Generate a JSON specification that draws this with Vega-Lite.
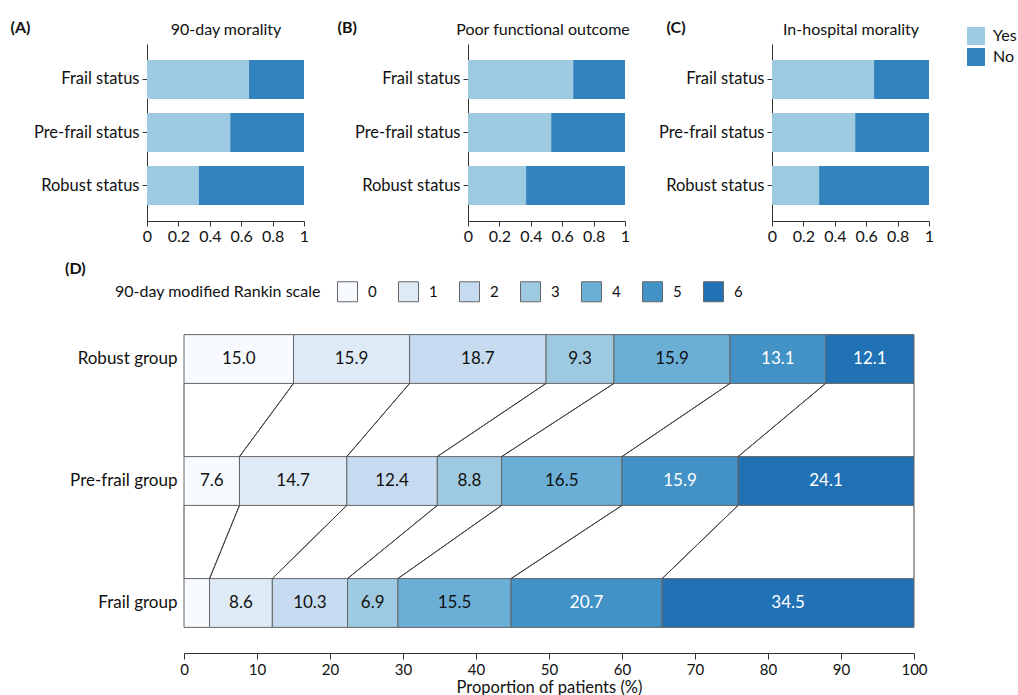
{
  "$schema": "https://vega.github.io/schema/vega-lite/v6.json",
  "padding": {"left": 10, "top": 19, "right": 0, "bottom": 0},
  "background": "white",
  "config": {
    "font": "Lato",
    "view": {"stroke": null},
    "axis": {"grid": false, "labelColor": "#111111", "titleColor": "#111111", "domainColor": "#333333", "tickColor": "#333333", "labelFont": "Lato", "titleFont": "Lato", "labelOverlap": false, "labelFlush": false},
    "legend": {"labelFont": "Lato", "titleFont": "Lato", "labelColor": "#111111", "titleColor": "#111111"},
    "title": {"font": "Lato", "color": "#111111"},
    "text": {"font": "Lato"}
  },
  "datasets": {
    "top": [
      {"panel": "A", "status": "Frail status", "outcome": "Yes", "value": 0.65},
      {"panel": "A", "status": "Frail status", "outcome": "No", "value": 0.35},
      {"panel": "A", "status": "Pre-frail status", "outcome": "Yes", "value": 0.53},
      {"panel": "A", "status": "Pre-frail status", "outcome": "No", "value": 0.47},
      {"panel": "A", "status": "Robust status", "outcome": "Yes", "value": 0.33},
      {"panel": "A", "status": "Robust status", "outcome": "No", "value": 0.67},
      {"panel": "B", "status": "Frail status", "outcome": "Yes", "value": 0.67},
      {"panel": "B", "status": "Frail status", "outcome": "No", "value": 0.33},
      {"panel": "B", "status": "Pre-frail status", "outcome": "Yes", "value": 0.53},
      {"panel": "B", "status": "Pre-frail status", "outcome": "No", "value": 0.47},
      {"panel": "B", "status": "Robust status", "outcome": "Yes", "value": 0.37},
      {"panel": "B", "status": "Robust status", "outcome": "No", "value": 0.63},
      {"panel": "C", "status": "Frail status", "outcome": "Yes", "value": 0.65},
      {"panel": "C", "status": "Frail status", "outcome": "No", "value": 0.35},
      {"panel": "C", "status": "Pre-frail status", "outcome": "Yes", "value": 0.53},
      {"panel": "C", "status": "Pre-frail status", "outcome": "No", "value": 0.47},
      {"panel": "C", "status": "Robust status", "outcome": "Yes", "value": 0.30},
      {"panel": "C", "status": "Robust status", "outcome": "No", "value": 0.70}
    ],
    "mrs": [
      {"group": "Robust group", "g": "R", "mrs": 0, "pct": 15.0},
      {"group": "Robust group", "g": "R", "mrs": 1, "pct": 15.9},
      {"group": "Robust group", "g": "R", "mrs": 2, "pct": 18.7},
      {"group": "Robust group", "g": "R", "mrs": 3, "pct": 9.3},
      {"group": "Robust group", "g": "R", "mrs": 4, "pct": 15.9},
      {"group": "Robust group", "g": "R", "mrs": 5, "pct": 13.1},
      {"group": "Robust group", "g": "R", "mrs": 6, "pct": 12.1},
      {"group": "Pre-frail group", "g": "P", "mrs": 0, "pct": 7.6},
      {"group": "Pre-frail group", "g": "P", "mrs": 1, "pct": 14.7},
      {"group": "Pre-frail group", "g": "P", "mrs": 2, "pct": 12.4},
      {"group": "Pre-frail group", "g": "P", "mrs": 3, "pct": 8.8},
      {"group": "Pre-frail group", "g": "P", "mrs": 4, "pct": 16.5},
      {"group": "Pre-frail group", "g": "P", "mrs": 5, "pct": 15.9},
      {"group": "Pre-frail group", "g": "P", "mrs": 6, "pct": 24.1},
      {"group": "Frail group", "g": "F", "mrs": 0, "pct": 3.5},
      {"group": "Frail group", "g": "F", "mrs": 1, "pct": 8.6},
      {"group": "Frail group", "g": "F", "mrs": 2, "pct": 10.3},
      {"group": "Frail group", "g": "F", "mrs": 3, "pct": 6.9},
      {"group": "Frail group", "g": "F", "mrs": 4, "pct": 15.5},
      {"group": "Frail group", "g": "F", "mrs": 5, "pct": 20.7},
      {"group": "Frail group", "g": "F", "mrs": 6, "pct": 34.5}
    ]
  },
  "vconcat": [
    {
      "spacing": 28,
      "align": "each",
      "hconcat": [
        {
          "width": 157, "height": 177,
          "layer": [
            {
              "data": {"name": "top"},
              "transform": [{"filter": "datum.panel == 'A'"}],
              "mark": {"type": "bar"},
              "encoding": {
                "y": {"field": "status", "type": "nominal", "sort": ["Frail status", "Pre-frail status", "Robust status"],
                  "scale": {"paddingInner": 0.264, "paddingOuter": 0.3},
                  "axis": {"title": "(A)", "titleX": -137, "titleY": -9, "titleAngle": 0, "titleAlign": "left", "titleBaseline": "bottom", "titleFontSize": 16, "titleFontWeight": "bold", "labelFontSize": 16.5, "tickSize": 5, "labelPadding": 3}},
                "x": {"field": "value", "type": "quantitative", "stack": "zero", "scale": {"domain": [0, 1], "nice": false},
                  "axis": {"values": [0, 0.2, 0.4, 0.6, 0.8, 1], "format": "~g", "labelFlush": false, "labelOverlap": false, "labelFontSize": 16, "tickSize": 5, "labelPadding": 2, "title": "90-day morality", "titleX": 78.5, "titleY": -184, "titleAlign": "center", "titleBaseline": "bottom", "titleFontSize": 16, "titleFontWeight": "normal"}},
                "color": {"field": "outcome", "type": "nominal", "scale": {"domain": ["Yes", "No"], "range": ["#9ecae1", "#3182bd"]},
                  "legend": {"title": null, "orient": "none", "legendX": 820, "legendY": -17, "symbolType": "square", "symbolSize": 324, "symbolStrokeWidth": 0, "labelFontSize": 16, "labelOffset": 8, "rowPadding": 3, "padding": 0}},
                "order": {"field": "outcome", "sort": "descending"}
              }
            },
            {"mark": {"type": "rule", "color": "#333333", "strokeWidth": 1}, "encoding": {"x": {"datum": 1, "type": "quantitative", "axis": {"values": [0, 0.2, 0.4, 0.6, 0.8, 1], "labelOverlap": false, "labelFlush": false}}}}
          ]
        },
        {
          "width": 157, "height": 177,
          "layer": [
            {
              "data": {"name": "top"},
              "transform": [{"filter": "datum.panel == 'B'"}],
              "mark": {"type": "bar"},
              "encoding": {
                "y": {"field": "status", "type": "nominal", "sort": ["Frail status", "Pre-frail status", "Robust status"],
                  "scale": {"paddingInner": 0.264, "paddingOuter": 0.3},
                  "axis": {"title": "(B)", "titleX": -131, "titleY": -9, "titleAngle": 0, "titleAlign": "left", "titleBaseline": "bottom", "titleFontSize": 16, "titleFontWeight": "bold", "labelFontSize": 16.5, "tickSize": 5, "labelPadding": 3}},
                "x": {"field": "value", "type": "quantitative", "stack": "zero", "scale": {"domain": [0, 1], "nice": false},
                  "axis": {"values": [0, 0.2, 0.4, 0.6, 0.8, 1], "format": "~g", "labelFlush": false, "labelOverlap": false, "labelFontSize": 16, "tickSize": 5, "labelPadding": 2, "title": "Poor functional outcome", "titleX": 74.5, "titleY": -184, "titleAlign": "center", "titleBaseline": "bottom", "titleFontSize": 16, "titleFontWeight": "normal"}},
                "color": {"field": "outcome", "type": "nominal", "scale": {"domain": ["Yes", "No"], "range": ["#9ecae1", "#3182bd"]},
                  "legend": {"title": null, "orient": "none", "legendX": 820, "legendY": -17, "symbolType": "square", "symbolSize": 324, "symbolStrokeWidth": 0, "labelFontSize": 16, "labelOffset": 8, "rowPadding": 3, "padding": 0}},
                "order": {"field": "outcome", "sort": "descending"}
              }
            },
            {"mark": {"type": "rule", "color": "#333333", "strokeWidth": 1}, "encoding": {"x": {"datum": 1, "type": "quantitative", "axis": {"values": [0, 0.2, 0.4, 0.6, 0.8, 1], "labelOverlap": false, "labelFlush": false}}}}
          ]
        },
        {
          "width": 157, "height": 177,
          "layer": [
            {
              "data": {"name": "top"},
              "transform": [{"filter": "datum.panel == 'C'"}],
              "mark": {"type": "bar"},
              "encoding": {
                "y": {"field": "status", "type": "nominal", "sort": ["Frail status", "Pre-frail status", "Robust status"],
                  "scale": {"paddingInner": 0.264, "paddingOuter": 0.3},
                  "axis": {"title": "(C)", "titleX": -106, "titleY": -9, "titleAngle": 0, "titleAlign": "left", "titleBaseline": "bottom", "titleFontSize": 16, "titleFontWeight": "bold", "labelFontSize": 16.5, "tickSize": 5, "labelPadding": 3}},
                "x": {"field": "value", "type": "quantitative", "stack": "zero", "scale": {"domain": [0, 1], "nice": false},
                  "axis": {"values": [0, 0.2, 0.4, 0.6, 0.8, 1], "format": "~g", "labelFlush": false, "labelOverlap": false, "labelFontSize": 16, "tickSize": 5, "labelPadding": 2, "title": "In-hospital morality", "titleX": 78.5, "titleY": -184, "titleAlign": "center", "titleBaseline": "bottom", "titleFontSize": 16, "titleFontWeight": "normal"}},
                "color": {"field": "outcome", "type": "nominal", "scale": {"domain": ["Yes", "No"], "range": ["#9ecae1", "#3182bd"]},
                  "legend": {"title": null, "orient": "none", "legendX": 820, "legendY": -17, "symbolType": "square", "symbolSize": 324, "symbolStrokeWidth": 0, "labelFontSize": 16, "labelOffset": 8, "rowPadding": 3, "padding": 0}},
                "order": {"field": "outcome", "sort": "descending"}
              }
            },
            {"mark": {"type": "rule", "color": "#333333", "strokeWidth": 1}, "encoding": {"x": {"datum": 1, "type": "quantitative", "axis": {"values": [0, 0.2, 0.4, 0.6, 0.8, 1], "labelOverlap": false, "labelFlush": false}}}}
          ]
        }
      ]
    },
    {
      "width": 767, "height": 344,
      "title": {"text": "(D)", "anchor": "start", "frame": "group", "dx": -82, "offset": 4, "fontSize": 16, "fontWeight": "bold"},
      "data": {"name": "mrs"},
      "encoding": {
        "y": {"field": "group", "type": "nominal", "sort": ["Robust group", "Pre-frail group", "Frail group"],
          "scale": {"paddingInner": 0.6, "paddingOuter": 0.21},
          "axis": {"title": null, "offset": -37, "ticks": false, "domain": false, "labelFontSize": 17, "labelPadding": 7}}
      },
      "layer": [
        {
          "mark": {"type": "bar", "stroke": "#666666", "strokeWidth": 1},
          "encoding": {
            "x": {"field": "pct", "type": "quantitative", "stack": "zero", "scale": {"domain": [0, 100], "nice": false, "range": [37, 767]},
              "axis": {"values": [0, 10, 20, 30, 40, 50, 60, 70, 80, 90, 100], "labelFlush": false, "labelFontSize": 15, "tickSize": 6, "labelPadding": 3, "title": "Proportion of patients (%)", "titleFontSize": 16.5, "titleFontWeight": "normal", "titlePadding": 2}},
            "color": {"field": "mrs", "type": "ordinal", "scale": {"domain": [0, 1, 2, 3, 4, 5, 6], "range": ["#f7fbff", "#deebf7", "#c6dbef", "#9ecae1", "#6baed6", "#4292c6", "#2171b5"]},
              "legend": {"orient": "none", "legendX": -32, "legendY": -28, "direction": "horizontal", "columns": 7, "title": "90-day modified Rankin scale", "titleLimit": 400, "titleOrient": "left", "titleFontSize": 16, "titleFontWeight": "normal", "titlePadding": 16, "symbolType": "square", "symbolSize": 400, "symbolStrokeColor": "#666666", "symbolStrokeWidth": 1, "labelFontSize": 15, "labelOffset": 10, "columnPadding": 19, "padding": 0}},
            "order": {"field": "mrs", "type": "quantitative"}
          }
        },
        {
          "mark": {"type": "text", "fontSize": 17},
          "encoding": {
            "x": {"field": "pct", "type": "quantitative", "stack": "zero", "bandPosition": 0.5},
            "detail": {"field": "mrs", "type": "ordinal"},
            "order": {"field": "mrs", "type": "quantitative"},
            "text": {"condition": {"test": "datum.pct < 5", "value": ""}, "field": "pct", "type": "quantitative", "format": ".1f"},
            "color": {"condition": {"test": "datum.mrs >= 5", "value": "white"}, "value": "#111111"}
          }
        },
        {
          "transform": [
            {"stack": "pct", "groupby": ["g"], "sort": [{"field": "mrs", "order": "ascending"}], "as": ["s", "e"]},
            {"fold": ["s", "e"], "as": ["edge", "cum"]},
            {"pivot": "g", "value": "cum", "groupby": ["mrs", "edge"]}
          ],
          "mark": {"type": "rule", "color": "#444444", "strokeWidth": 1},
          "encoding": {
            "x": {"field": "R", "type": "quantitative"},
            "x2": {"field": "P"},
            "y": {"datum": "Robust group", "type": "nominal", "bandPosition": 1},
            "y2": {"datum": "Pre-frail group", "bandPosition": 0}
          }
        },
        {
          "transform": [
            {"stack": "pct", "groupby": ["g"], "sort": [{"field": "mrs", "order": "ascending"}], "as": ["s", "e"]},
            {"fold": ["s", "e"], "as": ["edge", "cum"]},
            {"pivot": "g", "value": "cum", "groupby": ["mrs", "edge"]}
          ],
          "mark": {"type": "rule", "color": "#444444", "strokeWidth": 1},
          "encoding": {
            "x": {"field": "P", "type": "quantitative"},
            "x2": {"field": "F"},
            "y": {"datum": "Pre-frail group", "type": "nominal", "bandPosition": 1},
            "y2": {"datum": "Frail group", "bandPosition": 0}
          }
        }
      ]
    }
  ],
  "spacing": 17,
  "resolve": {"scale": {"color": "independent"}, "legend": {"color": "independent"}}
}
